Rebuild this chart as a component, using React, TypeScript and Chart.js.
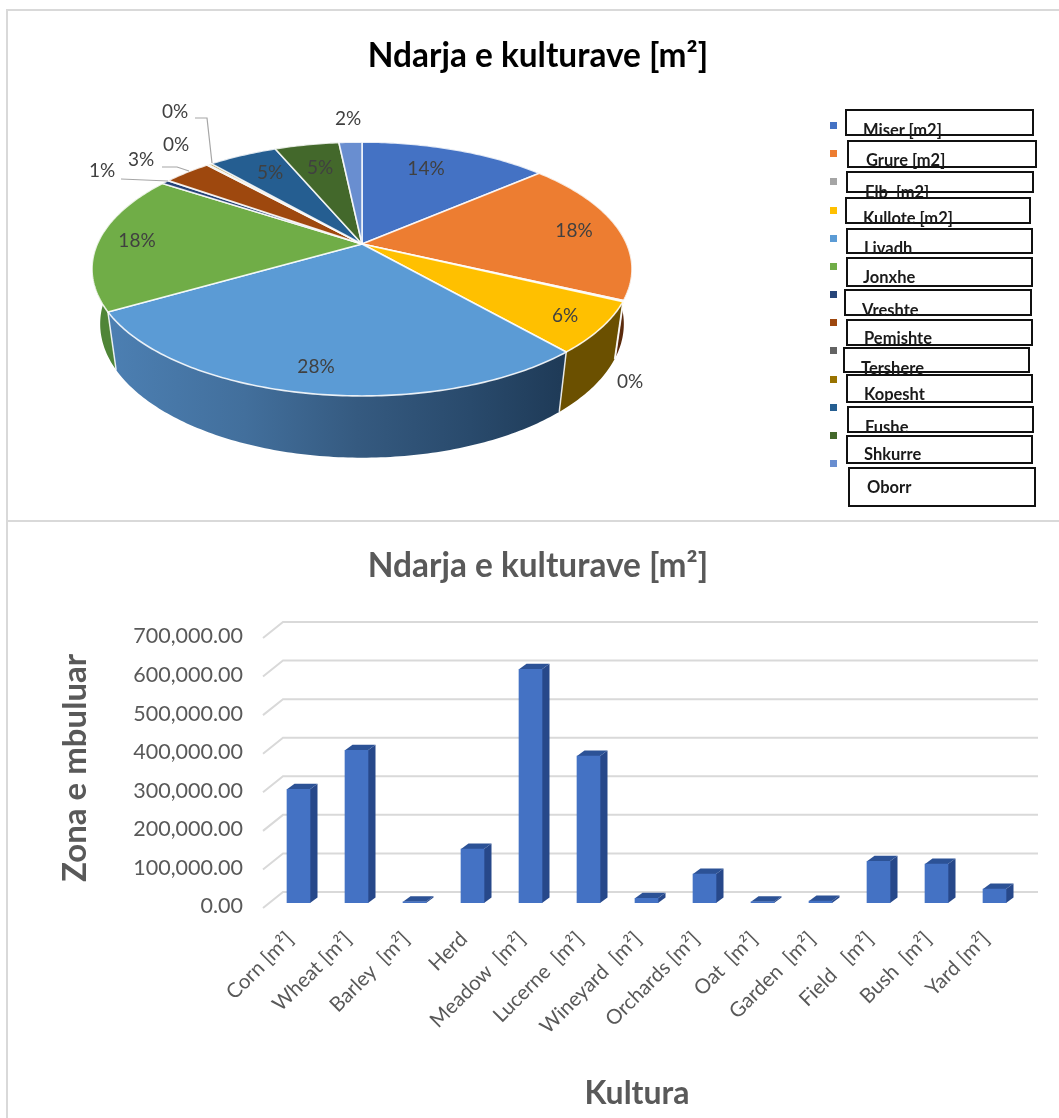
import React, { useEffect, useRef } from "react";
import { Chart, registerables } from "chart.js";

Chart.register(...registerables);

const TITLE_TEXT = "Ndarja e kulturave [m²]";
const FONT = "Lato, Carlito, 'Open Sans', sans-serif";

// ---- data ----
const barCategories = [
  "Corn [m²]", "Wheat [m²]", "Barley  [m²]", "Herd", "Meadow  [m²]", "Lucerne  [m²]",
  "Wineyard  [m²]", "Orchards [m²]", "Oat  [m²]", "Garden  [m²]", "Field   [m²]", "Bush  [m²]", "Yard [m²]",
];
const areaValues = [295000, 396000, 3000, 140000, 606000, 381000, 12000, 75000, 3000, 5000, 108000, 101000, 36000];
const pieLabels = [
  "Miser [m2]", "Grure [m2]", "Elb  [m2]", "Kullote [m2]", "Livadh", "Jonxhe", "Vreshte",
  "Pemishte", "Tershere", "Kopesht", "Fushe", "Shkurre", "Oborr",
];
const pieColors = [
  "#4472c4", "#ed7d31", "#a5a5a5", "#ffc000", "#5b9bd5", "#70ad47", "#264478",
  "#9e480e", "#636363", "#997300", "#255e91", "#43682b", "#698ed0",
];
const wallColors = [
  "#2b4a80", "#5a2a0c", "#666666", "#6b5000", "#2f5a85", "#4f8537", "#1a2f54",
  "#6a300a", "#444444", "#6a5000", "#1a4265", "#2f491e", "#4a6494",
];

// ---- pie layout (screen geometry of the tilted disc) ----
const CX = 362;
const CY = 244;
const RX = 264.7;
const RY = 122;
const PERSP = 0.197;
const DEPTH_Y = 56;
const DEPTH_W = 0.03;
const labelOffsets: [number, number][] = [
  [64, -75], [212, -13], [268, 138], [203, 72], [-46, 123], [-225, -3], [-260, -73],
  [-221, -84], [-186, -99], [-187, -132], [-92, -71], [-42, -76], [-14, -125],
];
const leaders: [number, number][][] = [
  [[121, 179], [168, 181]],
  [[162, 167], [177, 167], [189, 171]],
  [[195, 118], [207, 118], [212, 163]],
];

// ---- legend layout: box [x0, y0, x1, y1], text [x, centre y] ----
const legendBoxes = [
  [845, 109, 1034, 136], [847, 140, 1037, 168], [846, 171, 1034, 193], [845, 197, 1031, 224],
  [846, 228, 1033, 254], [846, 257, 1033, 287], [844, 289, 1032, 316], [846, 319, 1033, 346],
  [843, 347, 1030, 373], [846, 374, 1033, 403], [847, 406, 1034, 433], [846, 435, 1033, 464],
  [848, 467, 1036, 507],
];
const legendTexts = [
  [863, 130], [866, 160], [865, 192], [863, 218], [864, 248], [863, 277], [862, 310],
  [864, 338], [861, 368], [864, 394], [865, 427], [864, 454], [867, 487],
];

function project(a: number, z: number): [number, number] {
  const x = Math.cos(a);
  const y = Math.sin(a);
  const w = 1 - PERSP * y + DEPTH_W * z;
  return [CX + (RX * x) / w, CY + (RY * y + DEPTH_Y * z) / w];
}

function arcPoints(a0: number, a1: number, z: number) {
  const n = Math.max(2, Math.ceil(Math.abs(a1 - a0) / 0.015));
  const pts: [number, number][] = [];
  for (let i = 0; i <= n; i++) pts.push(project(a0 + ((a1 - a0) * i) / n, z));
  return pts;
}

const pie3dPlugin = {
  id: "pie3d",
  beforeDatasetDraw(chart: any) {
    const ctx = chart.ctx;
    const arcs = chart.getDatasetMeta(0).data as any[];
    ctx.save();
    const order = arcs
      .map((_, i) => i)
      .sort(
        (p, q) =>
          Math.sin((arcs[p].startAngle + arcs[p].endAngle) / 2) -
          Math.sin((arcs[q].startAngle + arcs[q].endAngle) / 2)
      );
    // side wall
    for (const i of order) {
      const { startAngle: s, endAngle: e } = arcs[i];
      const top = arcPoints(s, e, 0);
      const bot = arcPoints(s, e, 1).reverse();
      ctx.beginPath();
      [...top, ...bot].forEach((p, k) => (k ? ctx.lineTo(p[0], p[1]) : ctx.moveTo(p[0], p[1])));
      ctx.closePath();
      if (i === 4) {
        const g = ctx.createLinearGradient(110, 0, 560, 0);
        g.addColorStop(0, "#4c7fb2");
        g.addColorStop(0.3, "#426f9c");
        g.addColorStop(0.55, "#355a80");
        g.addColorStop(0.8, "#294a6c");
        g.addColorStop(1, "#1f3b58");
        ctx.fillStyle = g;
      } else {
        ctx.fillStyle = wallColors[i];
      }
      ctx.fill();
    }
    // wall seams
    ctx.strokeStyle = "rgba(255,255,255,0.85)";
    ctx.lineWidth = 1.5;
    for (const a of arcs) {
      if (Math.sin(a.startAngle) > 0.3) {
        const p = project(a.startAngle, 0);
        const q = project(a.startAngle, 1);
        ctx.beginPath();
        ctx.moveTo(p[0], p[1]);
        ctx.lineTo(q[0], q[1]);
        ctx.stroke();
      }
    }
    // top faces
    arcs.forEach((a, i) => {
      const pts = arcPoints(a.startAngle, a.endAngle, 0);
      ctx.beginPath();
      ctx.moveTo(CX, CY);
      pts.forEach((p) => ctx.lineTo(p[0], p[1]));
      ctx.closePath();
      ctx.fillStyle = pieColors[i];
      ctx.fill();
      ctx.strokeStyle = "rgba(255,255,255,0.85)";
      ctx.lineWidth = 1.6;
      ctx.lineJoin = "round";
      ctx.stroke();
    });
    ctx.restore();
    return false;
  },
  afterDatasetsDraw(chart: any) {
    const ctx = chart.ctx;
    ctx.save();
    ctx.strokeStyle = "#a6a6a6";
    ctx.lineWidth = 1.2;
    leaders.forEach((l) => {
      ctx.beginPath();
      l.forEach((p, k) => (k ? ctx.lineTo(p[0], p[1]) : ctx.moveTo(p[0], p[1])));
      ctx.stroke();
    });
    const total = areaValues.reduce((s, v) => s + v, 0);
    ctx.fillStyle = "#404040";
    ctx.font = `19px ${FONT}`;
    ctx.textAlign = "center";
    ctx.textBaseline = "middle";
    areaValues.forEach((v, i) => {
      ctx.fillText(`${Math.round((v / total) * 100)}%`, CX + labelOffsets[i][0], CY + labelOffsets[i][1]);
    });
    ctx.restore();
  },
};

// ---- bar chart pseudo-3D ----
const SIDE_DX = 7.5;
const SIDE_DY = 5.5;
const GRID_LEFT = 263;
const GRID_BACK_LEFT = 283;
const GRID_RIGHT = 1038;
const BACK_DY = -11;
const FRONT_DY = 5;

const bar3dPlugin = {
  id: "bar3d",
  beforeDatasetsDraw(chart: any) {
    const ctx = chart.ctx;
    const yScale = chart.scales.y;
    ctx.save();
    ctx.strokeStyle = "#d9d9d9";
    ctx.lineWidth = 2;
    yScale.ticks.forEach((t: any) => {
      const y = yScale.getPixelForValue(t.value);
      ctx.beginPath();
      ctx.moveTo(GRID_LEFT, y + FRONT_DY);
      ctx.lineTo(GRID_BACK_LEFT, y + BACK_DY);
      ctx.lineTo(GRID_RIGHT, y + BACK_DY);
      ctx.stroke();
    });
    const bars = chart.getDatasetMeta(0).data as any[];
    bars.forEach((b) => {
      const r = b.x + b.width / 2;
      const l = b.x - b.width / 2;
      ctx.fillStyle = "#27488a";
      ctx.beginPath();
      ctx.moveTo(r, b.base);
      ctx.lineTo(r + SIDE_DX, b.base - SIDE_DY);
      ctx.lineTo(r + SIDE_DX, b.y - SIDE_DY);
      ctx.lineTo(r, b.y);
      ctx.closePath();
      ctx.fill();
      ctx.fillStyle = "#2c5296";
      ctx.beginPath();
      ctx.moveTo(l, b.y);
      ctx.lineTo(l + SIDE_DX, b.y - SIDE_DY);
      ctx.lineTo(r + SIDE_DX, b.y - SIDE_DY);
      ctx.lineTo(r, b.y);
      ctx.closePath();
      ctx.fill();
    });
    ctx.restore();
  },
  afterDraw(chart: any) {
    const ctx = chart.ctx;
    ctx.save();
    ctx.fillStyle = "#595959";
    ctx.font = `bold 32px ${FONT}`;
    ctx.textAlign = "center";
    ctx.textBaseline = "middle";
    ctx.fillText("Kultura", 637, 573);
    ctx.restore();
  },
};

export default function App() {
  const pieRef = useRef<HTMLCanvasElement | null>(null);
  const barRef = useRef<HTMLCanvasElement | null>(null);

  useEffect(() => {
    const pie = new Chart(pieRef.current as HTMLCanvasElement, {
      type: "pie",
      data: { labels: pieLabels, datasets: [{ data: areaValues, backgroundColor: pieColors }] },
      plugins: [pie3dPlugin],
      options: {
        animation: false,
        responsive: false,
        plugins: {
          legend: { display: false },
          tooltip: { enabled: false },
          title: {
            display: true,
            text: TITLE_TEXT,
            color: "#000000",
            font: { family: FONT, size: 33.4, weight: "bold" },
            padding: { top: 36, bottom: 10 },
          },
        },
      },
    } as any);
    const bar = new Chart(barRef.current as HTMLCanvasElement, {
      type: "bar",
      data: {
        labels: barCategories,
        datasets: [{ data: areaValues, backgroundColor: "#4472c4", barThickness: 23 }],
      },
      plugins: [bar3dPlugin],
      options: {
        animation: false,
        responsive: false,
        layout: { padding: { left: 52.5, right: 52.5, top: 0, bottom: 0 } },
        plugins: {
          legend: { display: false },
          tooltip: { enabled: false },
          title: {
            display: true,
            text: TITLE_TEXT,
            color: "#595959",
            font: { family: FONT, size: 33.4, weight: "bold" },
            padding: { top: 25, bottom: 46.9 },
          },
        },
        scales: {
          x: {
            grid: { display: false },
            border: { display: false },
            afterFit: (s: any) => {
              s.height = 215;
            },
            ticks: {
              autoSkip: false,
              minRotation: 45,
              maxRotation: 45,
              padding: 16,
              labelOffset: -8.5,
              color: "#595959",
              font: { family: FONT, size: 20.5 },
            },
          },
          y: {
            min: 0,
            max: 700000,
            grid: { display: false },
            border: { display: false },
            afterFit: (s: any) => {
              s.width = 217;
            },
            ticks: {
              stepSize: 100000,
              padding: 18.5,
              labelOffset: 3.5,
              color: "#595959",
              font: { family: FONT, size: 21.5 },
              callback: (v: any) =>
                Number(v).toLocaleString("en-US", { minimumFractionDigits: 2, maximumFractionDigits: 2 }),
            },
            title: {
              display: true,
              text: "Zona e mbuluar",
              color: "#595959",
              font: { family: FONT, size: 33, weight: "bold" },
              padding: { top: 3, bottom: 0 },
            },
          },
        },
      },
    } as any);
    return () => {
      pie.destroy();
      bar.destroy();
    };
  }, []);

  return (
    <div
      style={{
        position: "absolute",
        left: 0,
        top: 0,
        width: 1059,
        height: 1118,
        overflow: "hidden",
        background: "#fff",
      }}
    >
      <canvas
        ref={pieRef}
        width={1076}
        height={520}
        style={{ position: "absolute", left: 0, top: 0, width: 1076, height: 520 }}
      />
      <canvas
        ref={barRef}
        width={1076}
        height={597}
        style={{ position: "absolute", left: 0, top: 521, width: 1076, height: 597 }}
      />
      <div
        style={{
          position: "absolute",
          left: 6,
          top: 9,
          width: 1100,
          height: 509,
          border: "2px solid #d9d9d9",
          boxSizing: "content-box",
          pointerEvents: "none",
        }}
      />
      <div
        style={{
          position: "absolute",
          left: 6,
          top: 520,
          width: 1100,
          height: 700,
          border: "2px solid #d9d9d9",
          boxSizing: "content-box",
          pointerEvents: "none",
        }}
      />
      {pieLabels.map((label, i) => {
        const b = legendBoxes[i];
        const t = legendTexts[i];
        return (
          <React.Fragment key={label}>
            <div
              style={{
                position: "absolute",
                left: 830,
                top: 122 + i * 28.17,
                width: 7,
                height: 7,
                background: pieColors[i],
              }}
            />
            <div
              style={{
                position: "absolute",
                left: b[0],
                top: b[1],
                width: b[2] - b[0],
                height: b[3] - b[1],
                boxSizing: "border-box",
                border: "2px solid #111",
                background: "#fff",
              }}
            />
            <div
              style={{
                position: "absolute",
                left: t[0],
                top: t[1] - 9,
                height: 18,
                lineHeight: "18px",
                fontFamily: FONT,
                fontWeight: 700,
                fontSize: 16.5,
                color: "#1a1a1a",
                whiteSpace: "pre",
              }}
            >
              {label}
            </div>
          </React.Fragment>
        );
      })}
    </div>
  );
}
